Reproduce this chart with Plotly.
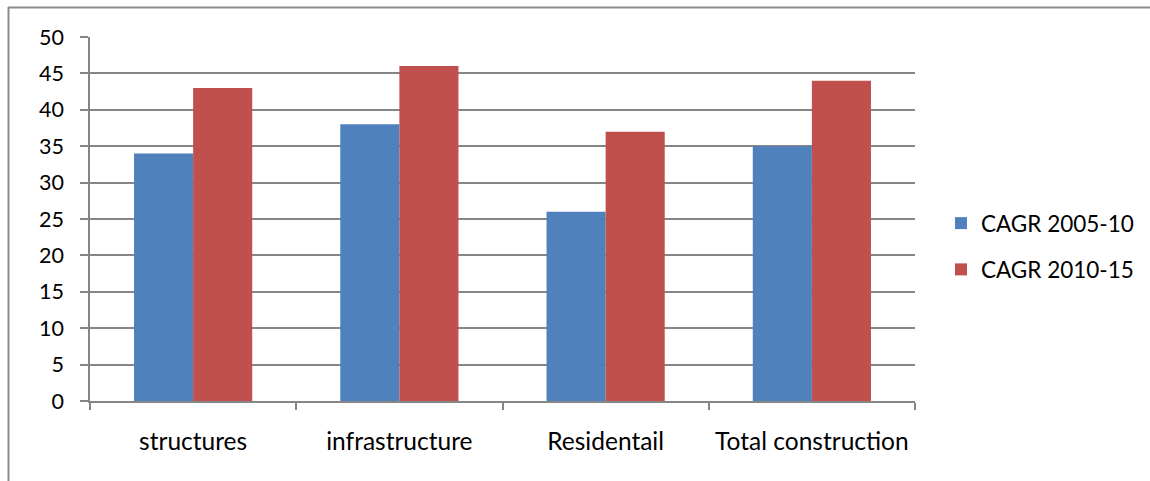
import plotly.graph_objects as go

categories = ["structures", "infrastructure", "Residentail", "Total construction"]
cagr_2005_10 = [34, 38, 26, 35]
cagr_2010_15 = [43, 46, 37, 44]
series_names = ["CAGR 2005-10", "CAGR 2010-15"]
y_ticks = [0, 5, 10, 15, 20, 25, 30, 35, 40, 45, 50]

W, H = 1150, 481
L, R, T, B = 90, 915, 37, 401
pw, ph = R - L, B - T

def px(x):
    return (x - L) / pw

def py(y):
    return (B - y) / ph

fig = go.Figure()
fig.add_trace(go.Bar(x=categories, y=cagr_2005_10, name=series_names[0],
                     marker=dict(color="#4F81BD", line=dict(width=0)), legendgroup="a"))
fig.add_trace(go.Bar(x=categories, y=cagr_2010_15, name=series_names[1],
                     marker=dict(color="#C0504D", line=dict(width=0)), legendgroup="b"))

font_family = "Lato, 'Open Sans', sans-serif"

fig.update_layout(
    width=W, height=H,
    margin=dict(l=L, r=W - R, t=T, b=H - B, pad=0, autoexpand=False),
    paper_bgcolor="white", plot_bgcolor="white",
    barmode="group", bargap=0.427, bargroupgap=0,
    font=dict(family=font_family, size=22, color="black"),
    legend=dict(x=px(941), y=py(246.5), xanchor="left", yanchor="middle",
                font=dict(size=22.5), tracegroupgap=14, traceorder="grouped",
                itemwidth=30, bgcolor="rgba(0,0,0,0)"),
    xaxis=dict(showgrid=False, showline=True, linecolor="#868686", linewidth=1.5,
               ticks="outside", tickson="boundaries", ticklen=7, tickcolor="#868686",
               tickwidth=1.5, ticklabelstandoff=18, tickfont=dict(size=24.5)),
    yaxis=dict(range=[0, 50], tickvals=y_ticks, showgrid=True, gridcolor="#868686",
               gridwidth=1.5, showline=True, linecolor="#868686", linewidth=1.5,
               ticks="outside", ticklen=8, tickcolor="#868686", tickwidth=1.5,
               ticklabelstandoff=12, zeroline=False, tickfont=dict(size=21.5)),
    shapes=[
        dict(type="line", xref="paper", yref="paper", x0=px(8), x1=px(1160), y0=py(7.5), y1=py(7.5),
             line=dict(color="#8C8C8C", width=2)),
        dict(type="line", xref="paper", yref="paper", x0=px(8.5), x1=px(8.5), y0=py(7), y1=py(490),
             line=dict(color="#8C8C8C", width=2)),
    ],
)

fig.write_html("out.html")
